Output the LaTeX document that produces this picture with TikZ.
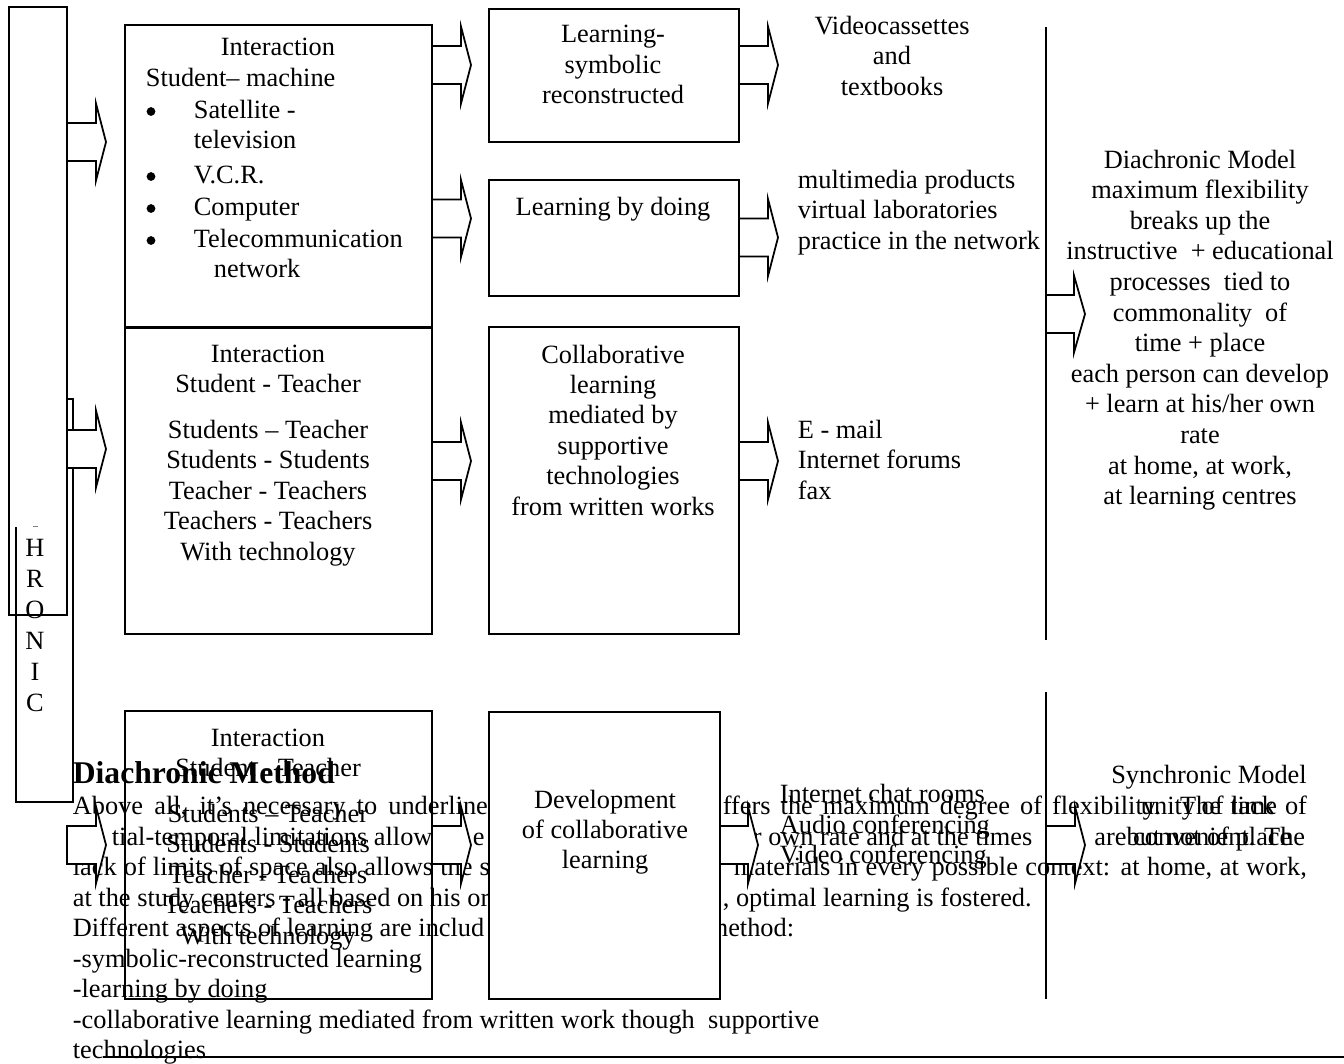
\documentclass[tikz,border=0pt]{standalone}
\usepackage{fontspec}
\setmainfont{Liberation Serif}
\newcommand\jbox[2]{\makebox[\dimexpr0.016cm*#1\relax][s]{#2}}
\newcommand\blockarr[4]{%
  \filldraw[arr] (#1,#4-19) -- (#2,#4-19) -- (#2,#4-38.5) -- (#3,#4) -- (#2,#4+38.5) -- (#2,#4+19) -- (#1,#4+19) -- cycle;}
\begin{document}
\begin{tikzpicture}[x=0.016cm,y=-0.016cm,line width=0.8pt,
  txt/.style={inner sep=0pt,anchor=base,font=\fontsize{12}{14}\selectfont},
  txtl/.style={txt,anchor=base west},
  txtr/.style={txt,anchor=base east},
  bul/.style={circle,fill=black,inner sep=0pt,minimum size=0.14cm},
  arr/.style={draw=black,fill=white,line width=0.8pt,line join=miter},
  boxline/.style={draw=black,line width=0.8pt}]
\useasboundingbox (0,0) rectangle (1344,1063);

% ---------- running paragraph (drawn first, partly hidden) ----------
\node[txtl,font=\fontsize{14.4}{16}\selectfont\bfseries] (hd) at (72,783) {Diachronic Method};
\node[txtl] (p2a) at (72,814) {\jbox{415}{Above all, it’s necessary to underline}};
\node[txtl] (p2b) at (722,814) {\jbox{584}{ffers the maximum degree of flexibility. The lack of}};
\node[txtl] (p3a) at (111,845) {tial-temporal limitations allow};
\node[txtl] (p3b) at (472,845) {e};
\node[txtl] (p3c) at (752,845) {r own rate and at the times};
\node[txtr] (p3d) at (1306,845) {are convenient. The};
\node[txtl] (p4a) at (72,875) {\jbox{417}{lack of limits of space also allows the s}};
\node[txtl] (p4b) at (733,875) {\jbox{573}{materials in every possible context: at home, at work,}};
\node[txtl] (p5a) at (72,906) {at the study centers - all based on his or};
\node[txtl] (p5b) at (722,906) {, optimal learning is fostered.};
\node[txtl] (p6a) at (72,936) {Different aspects of learning are includ};
\node[txtr] (p6b) at (795,936) {method:};
\node[txtl] (p7) at (72,967) {-symbolic-reconstructed learning};
\node[txtl] (p8) at (72,997) {-learning by doing};
\node[txtl] (p9) at (72,1028) {-collaborative learning mediated from written work though\ \ supportive};
\node[txtl] (p10) at (72,1058) {technologies};

% ---------- left tall frames ----------
\draw[boxline] (9,7) rectangle (67,615);
\draw[boxline] (67,399) -- (73,399) -- (73,802) -- (16,802) -- (16,527);
\draw[line width=0.4pt,gray] (33,526) -- (38,526);
\foreach \y/\t [count=\i] in {556/H,587/R,618/O,649/N,680/I,711/C}
  \node[txt] (v\i) at (35,\y) {\t};

% ---------- boxes ----------
\draw[boxline] (125,25) rectangle (432,327);
\draw[boxline] (125,328) rectangle (432,634);
\draw[boxline] (125,711) rectangle (432,999);
\draw[boxline] (489,9) rectangle (739,142);
\draw[boxline] (489,180) rectangle (739,296);
\draw[boxline] (489,327) rectangle (739,634);
\draw[boxline,fill=white] (489,712) rectangle (720,999);

% ---------- vertical separators and bottom rule ----------
\draw[boxline] (1046,27) -- (1046,640);
\draw[boxline] (1046,692) -- (1046,999);
\draw[line width=1.3pt] (103,1057) -- (1344,1057);

% ---------- block arrows ----------
\blockarr{67}{96}{106}{142}
\blockarr{67}{96}{106}{449}
\blockarr{67}{96}{106}{845}
\blockarr{432}{461}{471}{65}
\blockarr{432}{461}{471}{218.5}
\blockarr{432}{461}{471}{461}
\blockarr{432}{461}{471}{845}
\blockarr{739}{768}{778}{65}
\blockarr{739}{768}{778}{237.5}
\blockarr{739}{768}{778}{461}
\blockarr{720}{748}{758}{845}
\blockarr{1046}{1074}{1085}{314}
\blockarr{1046}{1075}{1085}{845}

% ---------- box A: student-machine ----------
\node[txt] (a1) at (278,55) {Interaction};
\node[txtl] (a2) at (145,86) {Student– machine};
\foreach \y/\t [count=\i] in {118/Satellite -,183/V.C.R.,215/Computer,247/Telecommunication}{
  \node[bul] (ab\i) at (151,\y-6.5) {};
  \node[txtl] (at\i) at (193,\y) {\t};
}
\node[txtl] (a3) at (193,148) {television};
\node[txtl] (a4) at (213,277) {network};

% ---------- box B ----------
\foreach \y/\t [count=\i] in {362/Interaction,392/Student - Teacher,438/Students – Teacher,468/Students - Students,499/Teacher - Teachers,529/Teachers - Teachers,560/With technology}
  \node[txt] (b\i) at (268,\y) {\t};

% ---------- box C ----------
\foreach \y/\t [count=\i] in {746/Interaction,776/Student - Teacher,822/Students – Teacher,852/Students - Students,883/Teacher - Teachers,913/Teachers - Teachers,944/With technology}
  \node[txt] (c\i) at (268,\y) {\t};

% ---------- middle boxes ----------
\foreach \y/\t [count=\i] in {42/Learning-,73/symbolic,103/reconstructed}
  \node[txt] (d\i) at (613,\y) {\t};
\node[txt] (e1) at (613,215) {Learning by doing};
\foreach \y/\t [count=\i] in {363/Collaborative,393/learning,423/mediated by,454/supportive,484/technologies,515/from written works}
  \node[txt] (f\i) at (613,\y) {\t};
\foreach \y/\t [count=\i] in {808/Development,838/of collaborative,868/learning}
  \node[txt] (g\i) at (605,\y) {\t};

% ---------- media lists ----------
\foreach \y/\t [count=\i] in {34/Videocassettes,64/and,95/textbooks}
  \node[txt] (m\i) at (892,\y) {\t};
\foreach \y/\t [count=\i] in {188/multimedia products,218.5/virtual laboratories,249/practice in the network}
  \node[txtl] (n\i) at (797,\y) {\t};
\foreach \y/\t [count=\i] in {438/E - mail,468.5/Internet forums,499/fax}
  \node[txtl] (o\i) at (797,\y) {\t};
\foreach \y/\t [count=\i] in {802/Internet chat rooms,833/Audio conferencing,863/Video conferencing}
  \node[txtl] (q\i) at (779,\y) {\t};

% ---------- models ----------
\foreach \y/\t [count=\i] in {168/Diachronic Model,198.6/maximum flexibility,229.2/breaks up the,259.8/{instructive\ \ + educational},290.4/{processes\ \ tied to},321/{commonality\ \ of},351.6/time + place,382.2/each person can develop,412.8/{+ learn at his/her own},443.4/rate,474/{at home, at work,},504.6/at learning centres}
  \node[txt] (r\i) at (1200,\y) {\t};
\foreach \y/\t [count=\i] in {783/Synchronic Model,814/unity of time,845/but not of place}
  \node[txt] (s\i) at (1209,\y) {\t};
\end{tikzpicture}
\end{document}
